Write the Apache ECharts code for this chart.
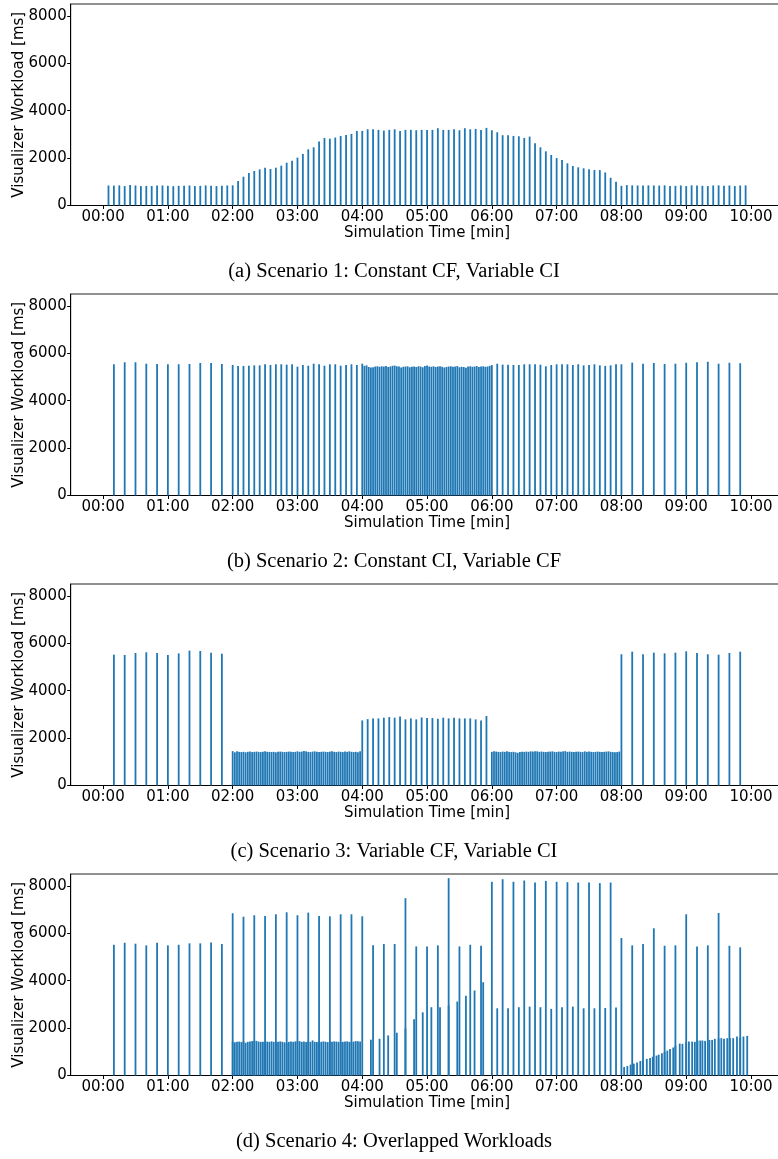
<!DOCTYPE html>
<html>
<head>
<meta charset="utf-8">
<script src="https://cdn.jsdelivr.net/npm/echarts@6/dist/echarts.min.js"></script>
<style>
  html, body { margin: 0; padding: 0; overflow: hidden; background: #fff; }
  #chart { width: 790px; height: 1159px; }
</style>
</head>
<body>
<div id="chart"></div>
<script>
// x ticks (seconds) and their labels
var xTickValues = [0, 60, 120, 180, 240, 300, 360, 420, 480, 540, 600];
var xTickLabels = ['00:00', '01:00', '02:00', '03:00', '04:00', '05:00', '06:00', '07:00', '08:00', '09:00', '10:00'];
var yTickValues = [0, 2000, 4000, 6000, 8000];

var captions = [
  '(a) Scenario 1: Constant CF, Variable CI',
  '(b) Scenario 2: Constant CI, Variable CF',
  '(c) Scenario 3: Variable CF, Variable CI',
  '(d) Scenario 4: Overlapped Workloads'
];

// Scenario 1: a frame every 5 s, from 0:05 to 9:55
var s1Values = [
  845, 840, 850, 820, 860, 845, 820, 825, 820, 840, 845, 830, 815, 830, 835, 845, 820, 830, 845, 830, 820, 835, 845, 850,
  1030, 1215, 1370, 1455, 1525, 1595, 1540, 1595, 1680, 1805, 1890, 2020, 2175, 2370, 2455, 2695, 2850, 2820, 2865, 2935,
  2975, 3020, 3145, 3145, 3215, 3215, 3190,
  3160, 3190, 3215, 3145, 3190, 3190, 3175, 3190, 3190, 3190, 3260, 3190, 3190, 3215, 3175, 3260, 3215, 3230, 3190, 3275,
  3175, 3090, 2965, 2965, 2935, 2920, 2850, 2905, 2625, 2455, 2285, 2130, 2000, 1920, 1780, 1665, 1610, 1570, 1525, 1495,
  1495, 1395, 1170, 1000, 830, 860,
  850, 845, 840, 850, 845, 840, 850, 820, 830, 845, 820, 850, 845, 830, 820, 845, 850, 830, 845, 820, 845, 850
];

// Scenario 2
var s2Slow1 = [5535, 5620, 5620, 5560, 5550, 5535, 5535, 5550, 5590, 5590, 5550];            // 0:10 - 1:50, every 10 s
var s2Mid1 = [5505, 5465, 5465, 5475, 5490, 5490, 5535, 5505, 5535, 5535, 5520, 5535,
  5435, 5505, 5475, 5560, 5535, 5475, 5535, 5535, 5475, 5505, 5535, 5505];                      // 2:00 - 3:55, every 5 s
var s2Fast = [
  5560, 5470, 5490, 5420, 5400, 5410, 5440, 5450, 5430, 5450,
  5440, 5460, 5420, 5440, 5470, 5480, 5450, 5440, 5400, 5430,
  5440, 5450, 5410, 5430, 5440, 5420, 5450, 5440, 5410, 5460,
  5480, 5440, 5430, 5450, 5420, 5440, 5450, 5430, 5400, 5420,
  5440, 5450, 5430, 5440, 5460, 5410, 5430, 5420, 5390, 5440,
  5450, 5430, 5440, 5460, 5420, 5440, 5450, 5430, 5440, 5470,
  5500
];                                                                                            // 4:00 - 6:00, every 2 s
var s2Mid2 = [5560, 5520, 5520, 5505, 5505, 5535, 5535, 5535, 5520, 5450, 5505, 5535,
  5535, 5535, 5505, 5535, 5490, 5505, 5535, 5490, 5465, 5490, 5535, 5535];                      // 6:05 - 8:00, every 5 s
var s2Slow2 = [5605, 5560, 5590, 5550, 5560, 5600, 5620, 5640, 5560, 5600, 5580];             // 8:10 - 9:50, every 10 s

// Scenario 3
var s3Slow1 = [5520, 5505, 5590, 5620, 5590, 5505, 5575, 5690, 5675, 5605, 5560];
var s3Fast1 = [
  1450, 1400, 1440, 1420, 1410, 1420, 1400, 1420, 1430, 1410,
  1420, 1430, 1420, 1410, 1420, 1440, 1420, 1420, 1410, 1420,
  1400, 1420, 1430, 1420, 1410, 1420, 1430, 1420, 1410, 1420,
  1440, 1420, 1430, 1460, 1440, 1420, 1410, 1430, 1440, 1420,
  1410, 1420, 1430, 1420, 1410, 1430, 1440, 1420, 1410, 1430,
  1420, 1410, 1430, 1420, 1440, 1420, 1410, 1420, 1400, 1440
];
var s3Mid = [2745, 2800, 2830, 2830, 2860, 2885, 2860, 2915, 2790, 2830, 2790, 2870,
  2845, 2845, 2815, 2860, 2830, 2860, 2830, 2830, 2830, 2790, 2745, 2930];
var s3Fast2 = [
  1420, 1440, 1430, 1420, 1410, 1430, 1420, 1440, 1420, 1410,
  1420, 1400, 1380, 1410, 1420, 1420, 1430, 1420, 1440, 1430,
  1440, 1440, 1420, 1430, 1420, 1410, 1420, 1430, 1440, 1420,
  1410, 1430, 1420, 1440, 1450, 1420, 1430, 1420, 1410, 1420,
  1430, 1420, 1410, 1440, 1420, 1430, 1420, 1410, 1420, 1430,
  1420, 1410, 1420, 1430, 1440, 1420, 1410, 1400, 1410, 1430
];
var s3Slow2 = [5535, 5645, 5535, 5605, 5575, 5605, 5660, 5590, 5535, 5520, 5590, 5645];

// Scenario 4
var s4Slow1 = [5515, 5600, 5560, 5490, 5600, 5490, 5515, 5575, 5575, 5615, 5545];
var s4Fast = [
  1440, 1400, 1420, 1430, 1410, 1440, 1380, 1420, 1430, 1450,
  1470, 1460, 1430, 1420, 1420, 1410, 1430, 1420, 1440, 1420,
  1410, 1420, 1440, 1420, 1400, 1380, 1420, 1430, 1420, 1440,
  1440, 1450, 1420, 1430, 1410, 1440, 1420, 1480, 1420, 1410,
  1430, 1420, 1440, 1420, 1410, 1430, 1420, 1440, 1430, 1420,
  1410, 1420, 1430, 1440, 1420, 1410, 1430, 1450, 1440, 1430
];
var s4Peak1 = [6845, 6700, 6760, 6730, 6800, 6885, 6760, 6870, 6730, 6715, 6800, 6800, 6715];  // 2:00 - 4:00
var s4Slow2 = [5490, 5545, 5545, 7480, 5445, 5445, 5490, 8325, 5445, 5515, 5475];            // 4:10 - 5:50
var s4Rise = [1510, 1550, 1690, 1805, 1980, 2370, 2665, 2880, 2880, 2950, 3120, 3360, 3585, 3935]; // 4:08 - 5:52, every 8 s
var s4Peak2 = [8170, 8280, 8170, 8225, 8140, 8210, 8170, 8155, 8140, 8140, 8115, 8140];       // 6:00 - 7:50
var s4Mid = [2835, 2835, 2880, 2905, 2880, 2810, 2880, 2905, 2835, 2835, 2850, 2865];         // 6:05 - 7:55
var s4Slow3 = [5800, 5490, 5545, 6210, 5475, 5490, 6800, 5445, 5490, 6855, 5475, 5405];       // 8:00 - 9:50
var s4RampTimes = [482.5, 485.5, 488.5, 491.5, 494.5, 497.5, 500, 503.5, 506.5, 509, 512.5, 514.5, 517.5, 520,
  522.5, 525, 528, 530, 534, 536.5, 540, 542.5, 545.5, 548, 550.5, 553, 555, 557.5, 561.5, 564, 566.5, 570,
  572.5, 575, 578, 580.5, 583.5, 587, 590, 593, 596.5];
var s4RampValues = [360, 400, 460, 500, 545, 615, 630, 700, 740, 790, 840, 880, 940, 995, 1050, 1120, 1180,
  1260, 1345, 1335, 1400, 1430, 1430, 1420, 1475, 1475, 1475, 1460, 1500, 1500, 1545, 1560, 1575, 1545, 1575,
  1575, 1575, 1645, 1600, 1645, 1670];

function seg(start, step, values) {
  return values.map(function (v, i) { return [start + i * step, v]; });
}
function pairs(times, values) {
  return times.map(function (t, i) { return [t, values[i]]; });
}

var panelData = [
  seg(5, 5, s1Values),
  [].concat(seg(10, 10, s2Slow1), seg(120, 5, s2Mid1), seg(240, 2, s2Fast), seg(365, 5, s2Mid2), seg(490, 10, s2Slow2)),
  [].concat(seg(10, 10, s3Slow1), seg(120, 2, s3Fast1), seg(240, 5, s3Mid), seg(360, 2, s3Fast2), seg(480, 10, s3Slow2)),
  [].concat(seg(10, 10, s4Slow1), seg(120, 2, s4Fast), seg(120, 10, s4Peak1), seg(248, 8, s4Rise),
    seg(250, 10, s4Slow2), seg(365, 10, s4Mid), seg(360, 10, s4Peak2), pairs(s4RampTimes, s4RampValues),
    seg(480, 10, s4Slow3))
];

var font = 'DejaVu Sans';
var grids = [], xAxes = [], yAxes = [], series = [], graphics = [];

panelData.forEach(function (data, i) {
  grids.push({
    left: 70.7, width: 712.7, top: 4 + i * 290, height: 201.5,
    containLabel: false, outerBoundsMode: 'none',
    show: true, borderColor: '#222', borderWidth: 1, backgroundColor: 'transparent'
  });
  xAxes.push({
    type: 'value', gridIndex: i, min: -30, max: 630,
    axisLine: { show: true, onZero: false, lineStyle: { color: '#000', width: 1 } },
    axisTick: { show: true, customValues: xTickValues, length: 3.5, lineStyle: { color: '#000' } },
    axisLabel: {
      customValues: xTickValues, margin: 4, color: '#000', fontSize: 15, fontFamily: font,
      formatter: function (v) { return xTickLabels[xTickValues.indexOf(v)]; }
    },
    splitLine: { show: false },
    name: 'Simulation Time [min]', nameLocation: 'middle', nameGap: 20,
    nameTextStyle: { color: '#000', fontSize: 15, fontFamily: font }
  });
  yAxes.push({
    type: 'value', gridIndex: i, min: 0, max: 8500,
    axisLine: { show: true, onZero: false, lineStyle: { color: '#000', width: 1 } },
    axisTick: { show: true, customValues: yTickValues, length: 3.5, lineStyle: { color: '#000' } },
    axisLabel: {
      customValues: yTickValues, margin: 4, color: '#000', fontSize: 15, fontFamily: font,
      formatter: function (v) { return String(v); }
    },
    splitLine: { show: false },
    name: 'Visualizer Workload [ms]', nameLocation: 'middle', nameGap: 44, nameMoveOverlap: false,
    nameTextStyle: { color: '#000', fontSize: 15, fontFamily: font }
  });
  series.push({
    type: 'bar', xAxisIndex: i, yAxisIndex: i, data: data,
    barWidth: 1.8, itemStyle: { color: '#1f77b4' }, silent: true
  });
  graphics.push({
    type: 'text', x: 394, y: 272 + i * 290,
    style: {
      text: captions[i], fill: '#000', font: '20.5px "Liberation Serif"',
      textAlign: 'center', textVerticalAlign: 'middle'
    }
  });
});

var chart = echarts.init(document.getElementById('chart'), null, { renderer: 'canvas' });
chart.setOption({
  animation: false,
  backgroundColor: '#fff',
  grid: grids,
  xAxis: xAxes,
  yAxis: yAxes,
  series: series,
  graphic: graphics
});
</script>
</body>
</html>
